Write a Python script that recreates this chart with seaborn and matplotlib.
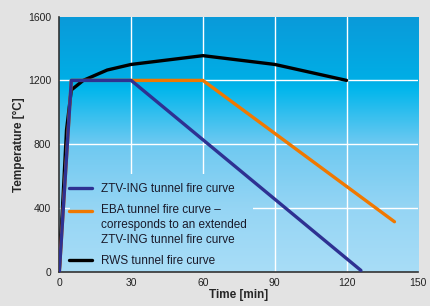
"""Tunnel fire curves: ZTV-ING, EBA and RWS temperature vs time."""
import numpy as np
import seaborn as sns
import pandas as pd
from matplotlib import pyplot as plt
from matplotlib.colors import LinearSegmentedColormap
from matplotlib.patches import Rectangle

# data
ztv_time = [0, 5, 30, 126]
ztv_temp = [0, 1200, 1200, 10]

eba_time = [0, 5, 60, 140]
eba_temp = [0, 1200, 1200, 315]

rws_time = [0, 3, 5, 10, 20, 30, 60, 90, 120]
rws_temp = [20, 890, 1140, 1200, 1265, 1300, 1355, 1300, 1200]

labels = [
    "ZTV-ING tunnel fire curve",
    "EBA tunnel fire curve \u2013\ncorresponds to an extended\nZTV-ING tunnel fire curve",
    "RWS tunnel fire curve",
]
colors = ["#2e3192", "#f07800", "#000000"]

x_ticks = [0, 30, 60, 90, 120, 150]
y_ticks = [0, 400, 800, 1200, 1600]

df = pd.concat([
    pd.DataFrame({"time": ztv_time, "temp": ztv_temp, "curve": labels[0]}),
    pd.DataFrame({"time": eba_time, "temp": eba_temp, "curve": labels[1]}),
    pd.DataFrame({"time": rws_time, "temp": rws_temp, "curve": labels[2]}),
])

sns.set_style("white")
plt.rcParams['font.family'] = ['Liberation Sans Narrow', 'Liberation Sans', 'DejaVu Sans']

fig = plt.figure(figsize=(4.3, 3.06), dpi=100, facecolor="#e3e3e3")
ax = fig.add_axes([0.138, 0.111, 0.835, 0.835])

# gradient background
cmap = LinearSegmentedColormap.from_list("bg", [
    (0.0, "#0a9ad9"), (0.25, "#00aee6"), (0.28, "#00b6ec"),
    (0.5, "#6ec9f1"), (0.75, "#95d5f4"), (1.0, "#a8ddf7")])
grad = np.linspace(0, 1, 256).reshape(-1, 1)
ax.imshow(grad, cmap=cmap, aspect="auto", extent=[0, 150, 0, 1600],
          origin="upper", zorder=0)

for v in x_ticks[1:-1]:
    ax.axvline(v, color="white", lw=1, zorder=1)
for v in y_ticks[1:-1]:
    ax.axhline(v, color="white", lw=1, zorder=1)

sns.lineplot(data=df, x="time", y="temp", hue="curve", palette=colors,
             hue_order=labels, sort=False, estimator=None, lw=2.4, ax=ax,
             zorder=3)

# ZTV-ING drawn on top, RWS underneath
curve_lines = [l for l in ax.lines if l.get_zorder() == 3]
for i, line in enumerate(curve_lines):
    line.set_zorder(3.3 - 0.1 * i)

ax.set_xlim(0, 150)
ax.set_ylim(0, 1600)
ax.set_xticks(x_ticks)
ax.set_yticks(y_ticks)
ax.tick_params(labelsize=7.5, colors="#222222", length=0)
ax.tick_params(axis="y", pad=6)
ax.tick_params(axis="x", pad=4)
ax.set_xlabel("Time [min]", fontsize=8.5, fontweight="bold", labelpad=1)
ax.set_ylabel("Temperature [°C]", fontsize=8.5, fontweight="bold", labelpad=2)
for s in ["top", "right"]:
    ax.spines[s].set_visible(False)
for s in ["left", "bottom"]:
    ax.spines[s].set_color("#333333")
    ax.spines[s].set_linewidth(1.2)

leg = ax.legend(loc="lower left", bbox_to_anchor=(0.015, 0.0), fontsize=8.5,
                frameon=False, handlelength=1.9, labelspacing=0.75,
                borderpad=0.4, borderaxespad=0)
for t in leg.get_texts():
    t.set_color("#1a1a2a")
    t.set_linespacing(1.35)
leg.set_zorder(4)

# EBA key sits on the first line of its three-line label
eba_key = leg.get_lines()[1]
eba_key.set_ydata(np.asarray(eba_key.get_ydata()) + 10.5)

# legend box hides the grid: repaint the background under it
fig.canvas.draw()
bb = leg.get_window_extent().transformed(ax.transData.inverted())
patch = ax.imshow(grad, cmap=cmap, aspect="auto", extent=[0, 150, 0, 1600],
                  origin="upper", zorder=2)
clip = Rectangle((bb.x0 + 2, bb.y0), bb.width - 2, bb.height + 30,
                 transform=ax.transData)
patch.set_clip_path(clip)

fig.savefig("out.png", dpi=100, facecolor=fig.get_facecolor())
